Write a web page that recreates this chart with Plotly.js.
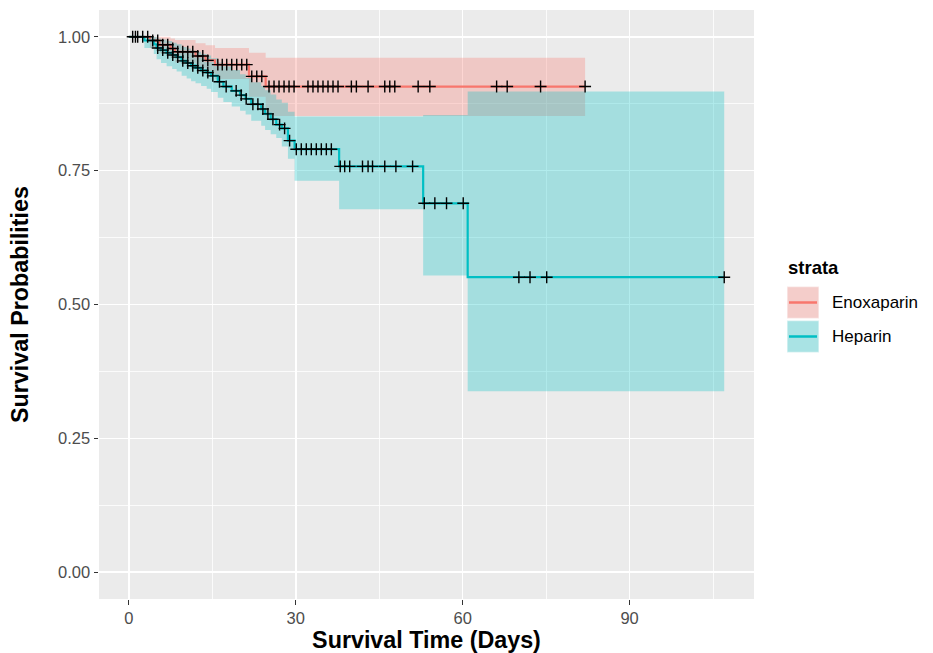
<!DOCTYPE html>
<html>
<head>
<meta charset="utf-8">
<script src="https://cdn.plot.ly/plotly-3.0.1.min.js"></script>
<style>html,body{margin:0;padding:0;background:#fff}#chart{width:933px;height:653px}</style>
</head>
<body>
<div id="chart"></div>
<script>
// ---------------- data ----------------
const strata = ["Enoxaparin", "Heparin"];

const enoxTime  = [0, 3.8, 5.5, 7.5, 8.3, 12, 13.8, 15.5, 21.6, 24.6];
const enoxSurv  = [1, 0.993, 0.985, 0.978, 0.972, 0.964, 0.956, 0.948, 0.926, 0.907];
const enoxLower = [1, 0.979, 0.969, 0.960, 0.952, 0.942, 0.932, 0.921, 0.888, 0.852];
const enoxUpper = [1, 1, 1, 0.997, 0.994, 0.988, 0.984, 0.979, 0.970, 0.961];
const enoxCensor = [0.7, 1.6, 2.5, 3.4, 4.3, 5.2, 6.1, 7, 7.9, 8.8, 9.7, 10.6, 11.5, 12.4, 13.3, 14.2,
  16, 16.8, 17.6, 18.5, 19.4, 20.3, 21.2, 22.1, 23, 23.9, 25.2, 26.1, 27, 27.9, 28.8, 29.7,
  32.2, 33.1, 34, 34.9, 35.8, 36.7, 37.6, 40, 40.9, 43, 46, 46.9, 47.8, 52, 54.1, 66.1, 68, 74, 82];

const hepTime  = [0, 2.8, 4.5, 5, 5.8, 6.8, 7.8, 8.6, 9.5, 10.4, 11.2, 12, 13, 14, 14.8, 16, 17, 18.5,
  20, 21, 22, 23.8, 24.5, 25.5, 26.5, 27.5, 28.6, 29.8, 37.8, 52.9, 60.9];
const hepSurv  = [1, 0.993, 0.986, 0.979, 0.975, 0.970, 0.966, 0.962, 0.955, 0.951, 0.946, 0.942, 0.937,
  0.933, 0.927, 0.916, 0.907, 0.899, 0.891, 0.884, 0.874, 0.865, 0.856, 0.846, 0.836, 0.829, 0.806,
  0.790, 0.758, 0.689, 0.551];
const hepLower = [1, 0.979, 0.968, 0.958, 0.951, 0.945, 0.940, 0.935, 0.927, 0.922, 0.917, 0.913, 0.908,
  0.903, 0.897, 0.886, 0.878, 0.870, 0.862, 0.855, 0.843, 0.834, 0.826, 0.818, 0.811, 0.795, 0.772,
  0.731, 0.678, 0.554, 0.338];
const hepUpper = [1, 1, 1, 0.997, 0.995, 0.992, 0.989, 0.986, 0.981, 0.978, 0.975, 0.972, 0.968,
  0.965, 0.960, 0.952, 0.945, 0.938, 0.930, 0.923, 0.915, 0.908, 0.900, 0.892, 0.883, 0.877, 0.860,
  0.851, 0.851, 0.854, 0.898];
const hepCensor = [1.2, 5.2, 6.1, 7, 7.9, 8.8, 9.7, 10.6, 11.5, 12.4, 13.3, 14.2, 15.1, 16.3, 17.5, 19.3,
  20.2, 21.1, 22.3, 23.2, 24.1, 25, 25.9, 27.1, 28, 28.9, 30.1, 31, 31.9, 32.8, 33.7, 34.6, 35.5, 36.4,
  38, 38.8, 39.7, 42, 43, 43.8, 46, 48, 51, 53.1, 55, 57.1, 60.1, 70.1, 72.1, 75.1, 107];

const xTicks = [0, 30, 60, 90];
const yTicks = [0, 0.25, 0.5, 0.75, 1];

// ---------------- helpers ----------------
const RED = "#F8766D", TEAL = "#00BFC4";
const RED_FILL = "rgba(248,118,109,0.3)", TEAL_FILL = "rgba(0,191,196,0.3)";
const FONT = "Liberation Sans, Arial, Helvetica, sans-serif";

function survAt(times, surv, t) {
  let v = surv[0];
  for (let i = 0; i < times.length; i++) if (times[i] <= t) v = surv[i];
  return v;
}
function extend(times, vals, end) {
  return { x: times.concat([end]), y: vals.concat([vals[vals.length - 1]]) };
}

function groupTraces(times, surv, lower, upper, censor, color, fill) {
  const end = Math.max.apply(null, censor);
  const up = extend(times, upper, end), lo = extend(times, lower, end), s = extend(times, surv, end);
  return {
    band: [
      { x: up.x, y: up.y, type: "scatter", mode: "lines", line: { shape: "hv", width: 0, color: fill },
        hoverinfo: "skip", showlegend: false },
      { x: lo.x, y: lo.y, type: "scatter", mode: "lines", line: { shape: "hv", width: 0, color: fill },
        fill: "tonexty", fillcolor: fill, hoverinfo: "skip", showlegend: false }
    ],
    line: { x: s.x, y: s.y, type: "scatter", mode: "lines", line: { shape: "hv", width: 2.2, color: color },
      showlegend: false },
    cens: { x: censor, y: censor.map(t => survAt(times, surv, t)), type: "scatter", mode: "markers",
      marker: { symbol: "cross-thin", size: 8.5, color: "#000", line: { width: 1.4, color: "#000" } },
      showlegend: false }
  };
}

const gE = groupTraces(enoxTime, enoxSurv, enoxLower, enoxUpper, enoxCensor, RED, RED_FILL);
const gH = groupTraces(hepTime, hepSurv, hepLower, hepUpper, hepCensor, TEAL, TEAL_FILL);

const data = [].concat(gE.band, gH.band, [gE.line, gH.line, gE.cens, gH.cens]);

// legend drawn in paper coordinates
const L = 99, R = 754, T = 10, B = 599;
const px = v => (v - L) / (R - L);
const py = v => (B - v) / (B - T);
const keys = [
  { name: strata[0], color: RED, fill: RED_FILL, top: 286.5, bot: 318.5 },
  { name: strata[1], color: TEAL, fill: TEAL_FILL, top: 320.5, bot: 352.5 }
];
const shapes = [], annotations = [];
keys.forEach(k => {
  shapes.push({ type: "rect", xref: "paper", yref: "paper", x0: px(787), x1: px(819), y0: py(k.bot), y1: py(k.top),
    fillcolor: "#F2F2F2", line: { width: 0 } });
  shapes.push({ type: "rect", xref: "paper", yref: "paper", x0: px(787), x1: px(819), y0: py(k.bot), y1: py(k.top),
    fillcolor: k.fill, line: { width: 1.5, color: "rgba(255,255,255,0.55)" } });
  const my = (k.top + k.bot) / 2;
  shapes.push({ type: "line", xref: "paper", yref: "paper", x0: px(789), x1: px(817), y0: py(my), y1: py(my),
    line: { width: 2.5, color: k.color } });
  annotations.push({ xref: "paper", yref: "paper", x: px(830), y: py(my), xanchor: "left", yanchor: "middle",
    text: k.name, showarrow: false, font: { family: FONT, size: 17, color: "#000" } });
});
annotations.push({ xref: "paper", yref: "paper", x: px(786), y: py(267), xanchor: "left", yanchor: "middle",
  text: "<b>strata</b>", showarrow: false, font: { family: FONT, size: 18.5, color: "#000" } });

const layout = {
  width: 933, height: 653,
  margin: { l: L, r: 933 - R, t: T, b: 653 - B, pad: 0 },
  paper_bgcolor: "#FFFFFF", plot_bgcolor: "#EBEBEB",
  showlegend: false,
  font: { family: FONT },
  xaxis: {
    range: [-5.35, 112.35], tickmode: "array", tickvals: xTicks, ticktext: xTicks.map(String),
    ticks: "outside", ticklen: 4.5, tickwidth: 1.1, tickcolor: "#333333",
    tickfont: { family: FONT, size: 16.5, color: "#4D4D4D" },
    showgrid: true, gridcolor: "#FFFFFF", gridwidth: 1.6, zeroline: false, showline: false,
    minor: { tickmode: "array", tickvals: [15, 45, 75, 105], showgrid: true, gridcolor: "#FFFFFF", gridwidth: 0.8, ticks: "" },
    title: { text: "<b>Survival Time (Days)</b>", font: { family: FONT, size: 23.3, color: "#000" }, standoff: 7 }
  },
  yaxis: {
    range: [-0.05, 1.05], tickmode: "array", tickvals: yTicks, ticktext: yTicks.map(v => v.toFixed(2)),
    ticks: "outside", ticklen: 4.5, tickwidth: 1.1, tickcolor: "#333333",
    tickfont: { family: FONT, size: 16.5, color: "#4D4D4D" },
    showgrid: true, gridcolor: "#FFFFFF", gridwidth: 1.6, zeroline: false, showline: false,
    minor: { tickmode: "array", tickvals: [0.125, 0.375, 0.625, 0.875], showgrid: true, gridcolor: "#FFFFFF", gridwidth: 0.8, ticks: "" },
    title: { text: "<b>Survival Probabilities</b>", font: { family: FONT, size: 23.3, color: "#000" }, standoff: 22 }
  },
  shapes: shapes,
  annotations: annotations
};

Plotly.newPlot("chart", data, layout, { displayModeBar: false, staticPlot: true });
</script>
</body>
</html>
